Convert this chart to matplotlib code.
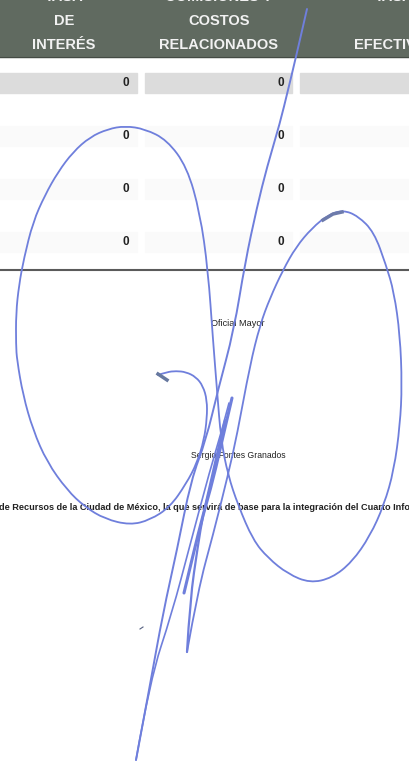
import matplotlib
matplotlib.use("Agg")
import matplotlib.pyplot as plt
from matplotlib.patches import Rectangle, PathPatch
from matplotlib.path import Path

plt.rcParams['font.family'] = ['Liberation Sans', 'DejaVu Sans']

# --- Table contents ---
header_labels = ["TASA", "DE", "INTERÉS", "COMISIONES Y", "COSTOS", "RELACIONADOS", "TASA", "EFECTIVA"]
header_x = [64, 64, 64, 219, 219, 219, 394, 390]
header_y = [-3, 21, 45, -3, 21, 45, -3, 45]
row_y = [83, 136, 189, 242]
row_fill = ['#dcdcdc', '#fafafa', '#fafafa', '#fafafa']
col_left = [-2, 145, 300]
col_right = [137, 292, 411]
zero_x = [129, 284]
footer = "de Recursos de la Ciudad de México, la que servirá de base para la integración del Cuarto Informe"

# --- Signature strokes (pixels) ---
loop_x = [158, 167, 176, 186, 196, 203, 207, 207, 204, 197, 186, 170, 150, 130, 105, 85, 67, 47, 33, 23, 17, 16,
          16, 19, 24, 33, 45, 58, 73, 90, 108, 125, 145, 167, 187, 200, 208, 213, 217, 221, 228, 238,
          253, 268, 288, 310, 332, 352, 370, 384, 394, 400, 402, 400, 394, 386, 374, 358, 343, 328, 312, 296, 283,
          270, 260, 250, 237, 228, 213, 198, 187]
loop_y = [375, 372, 371, 372, 377, 386, 400, 418, 440, 463, 484, 507, 520, 525, 519, 507, 490, 462, 430, 395, 360, 345,
          313, 285, 258, 222, 195, 172, 152, 137, 129, 126, 129, 140, 167, 213, 270, 340, 390, 440, 475, 505,
          540, 558, 574, 583, 578, 562, 536, 505, 470, 425, 385, 335, 292, 265, 232, 216, 210, 215, 228, 247, 270,
          298, 325, 365, 435, 475, 535, 590, 652]
down_x = [307, 296, 288, 280, 267, 257, 245, 234, 218, 206, 191, 177, 163, 150, 136]
down_y = [9, 57, 90, 123, 167, 207, 263, 330, 390, 440, 480, 550, 613, 685, 760]
up_x = [136, 150, 172, 190, 210, 222, 229]
up_y = [760, 680, 613, 545, 470, 430, 403]
thick1_x = [232, 224, 213, 203, 193, 184]
thick1_y = [398, 432, 480, 515, 555, 593]
thick2_x = [225, 219, 210, 203, 198, 190, 187]
thick2_y = [420, 445, 485, 515, 545, 600, 652]
speck_x = [158, 167]
speck_y = [374, 380]
smudge_x = [323, 333, 342]
smudge_y = [220, 214, 212]
dot_x = [140, 143]
dot_y = [629, 627]


def stroke_path(xs, ys):
    # quadratic segments between midpoints, so the read points give a smooth pen line
    verts = [(xs[0], ys[0])]
    codes = [Path.MOVETO]
    for i in range(1, len(xs) - 1):
        verts.append((xs[i], ys[i]))
        codes.append(Path.CURVE3)
        if i < len(xs) - 2:
            verts.append(((xs[i] + xs[i + 1]) / 2, (ys[i] + ys[i + 1]) / 2))
        else:
            verts.append((xs[-1], ys[-1]))
        codes.append(Path.CURVE3)
    return Path(verts, codes)


fig = plt.figure(figsize=(4.09, 7.61), dpi=100)
ax = fig.add_axes([0, 0, 1, 1])
ax.set_xlim(0, 409)
ax.set_ylim(761, 0)
ax.axis('off')

# header band
ax.add_patch(Rectangle((-2, -2), 413, 59, color='#606a60', zorder=1))
ax.plot([0, 409], [57, 57], color='#444b44', lw=0.8, zorder=2)
for lab, x, y in zip(header_labels, header_x, header_y):
    ax.text(x, y, lab, color='#f2f2f2', fontsize=10.5, fontweight='bold', ha='center', va='center', zorder=3)

# table rows
for y, c in zip(row_y, row_fill):
    for l, r in zip(col_left, col_right):
        ax.add_patch(Rectangle((l, y - 10), r - l, 20, color=c, zorder=1))
    for x in zero_x:
        ax.text(x, y, "0", color='#222222', fontsize=8.5, fontweight='bold', ha='right', va='center', zorder=3)

ax.plot([0, 409], [270, 270], color='#5a5a5a', lw=1.5, zorder=2)

# lower text
ax.text(238, 324, "Oficial Mayor", color='#222222', fontsize=6.6, ha='center', va='center', zorder=3)
ax.text(238.5, 456, "Sergio Fontes Granados", color='#222222', fontsize=6.2, ha='center', va='center', zorder=3)
ax.text(-1, 508, footer, color='#222222', fontsize=6.55, fontweight='bold', ha='left', va='center', zorder=3)

# signature
ink = '#6f7fdc'
strokes = [(loop_x, loop_y, 1.3), (down_x, down_y, 1.4), (up_x, up_y, 1.2), (thick1_x, thick1_y, 2.2), (thick2_x, thick2_y, 1.6)]
for xs, ys, w in strokes:
    ax.add_patch(PathPatch(stroke_path(xs, ys), fc='none', ec=ink, lw=w, capstyle='round', zorder=4))
ax.plot(speck_x, speck_y, color='#66789f', lw=2.5, zorder=4)
ax.plot(smudge_x, smudge_y, color='#6d7bab', lw=2.5, zorder=4)
ax.plot(dot_x, dot_y, color='#555f80', lw=0.8, zorder=4)

fig.savefig("out.png", dpi=100)
